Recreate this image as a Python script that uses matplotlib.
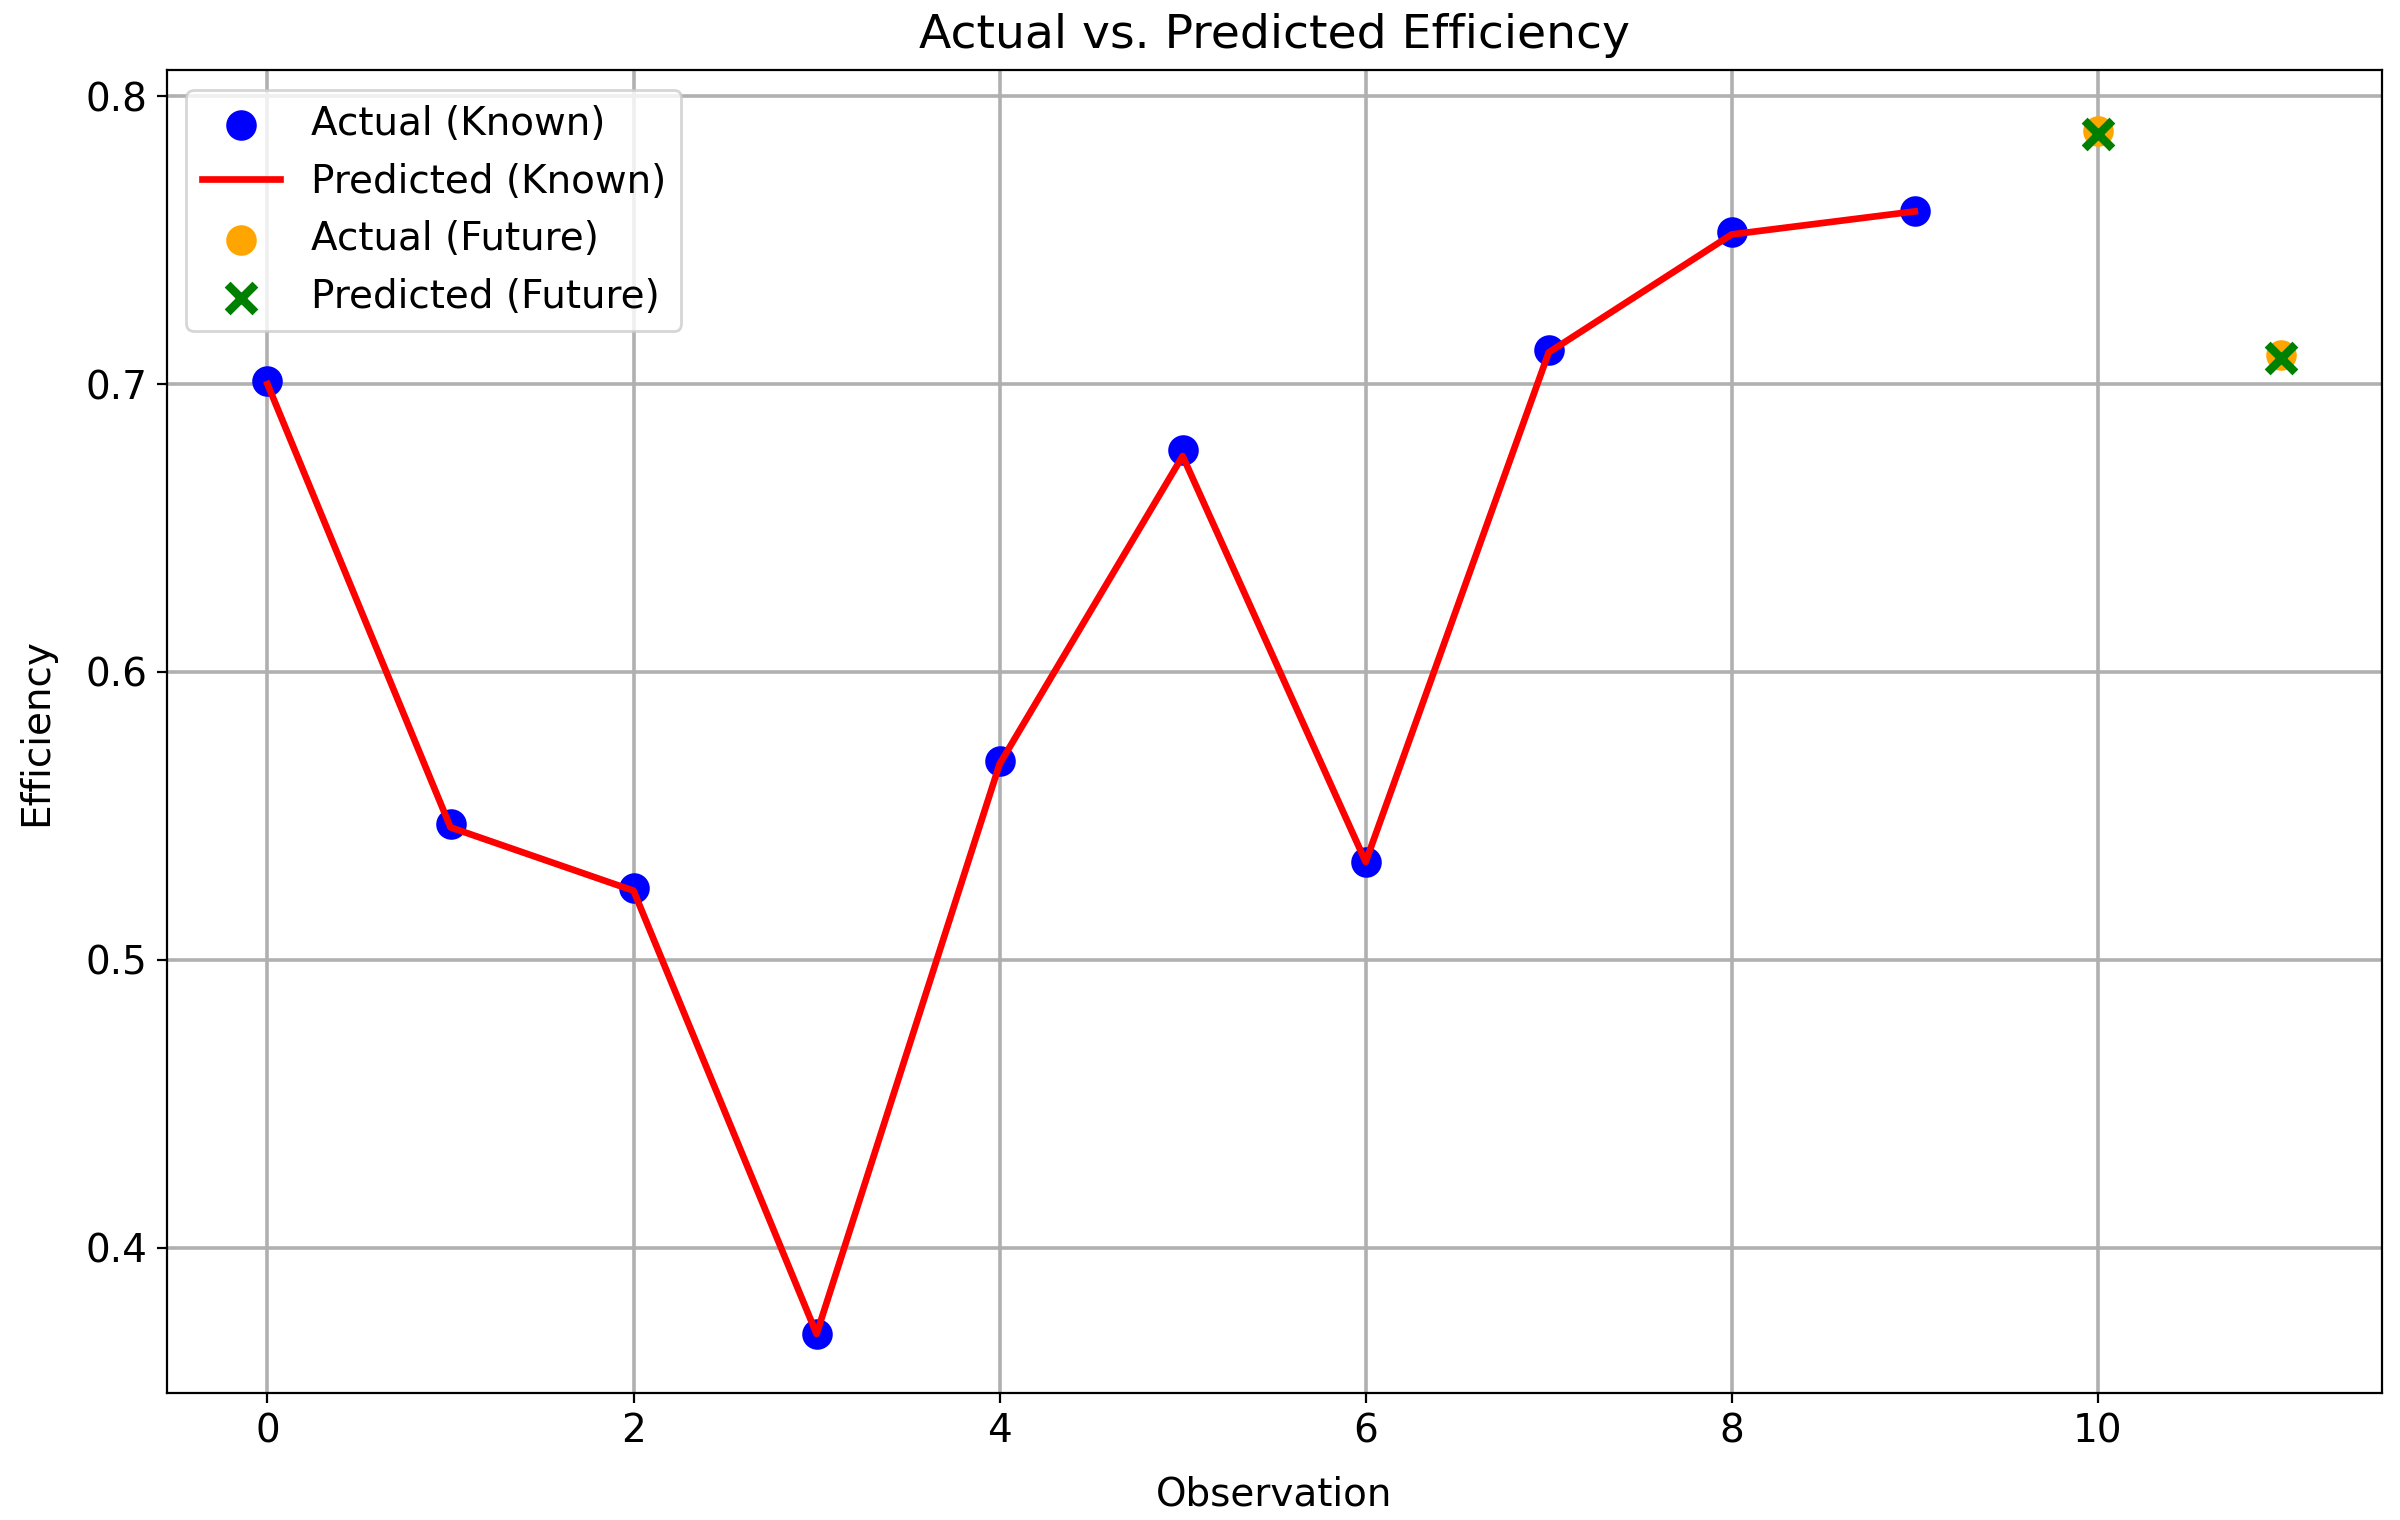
import numpy as np
import matplotlib
matplotlib.use("Agg")
import matplotlib.pyplot as plt

# Datos
obs_known = [0, 1, 2, 3, 4, 5, 6, 7, 8, 9]
actual_known = [0.701, 0.547, 0.525, 0.370, 0.569, 0.677, 0.534, 0.712, 0.753, 0.760]
pred_known = [0.700, 0.546, 0.524, 0.370, 0.568, 0.675, 0.534, 0.711, 0.752, 0.760]

obs_future = [10, 11]
actual_future = [0.788, 0.710]
pred_future = [0.787, 0.709]

plt.rcParams["font.size"] = 14

fig, ax = plt.subplots(figsize=(12, 7.6), dpi=200)

ax.scatter(obs_known, actual_known, color="blue", s=100, label="Actual (Known)", zorder=3)
ax.plot(obs_known, pred_known, color="red", linewidth=2.4, label="Predicted (Known)", zorder=4)
ax.scatter(obs_future, actual_future, color="orange", s=100, label="Actual (Future)", zorder=3)
ax.scatter(obs_future, pred_future, color="green", marker="x", s=100, linewidths=3,
           label="Predicted (Future)", zorder=4)

ax.set_title("Actual vs. Predicted Efficiency", fontsize=17, pad=8)
ax.set_xlabel("Observation", labelpad=9)
ax.set_ylabel("Efficiency", labelpad=11)
ax.set_xticks([0, 2, 4, 6, 8, 10])
ax.set_ylim(0.3495, 0.809)
ax.grid(True, color="#b0b0b0", linewidth=1.3)
ax.legend(loc="upper left")

# Márgenes como en la imagen original
plt.subplots_adjust(left=0.0695, right=0.9923, top=0.9537, bottom=0.0836)
plt.savefig("out.png", dpi=200)
